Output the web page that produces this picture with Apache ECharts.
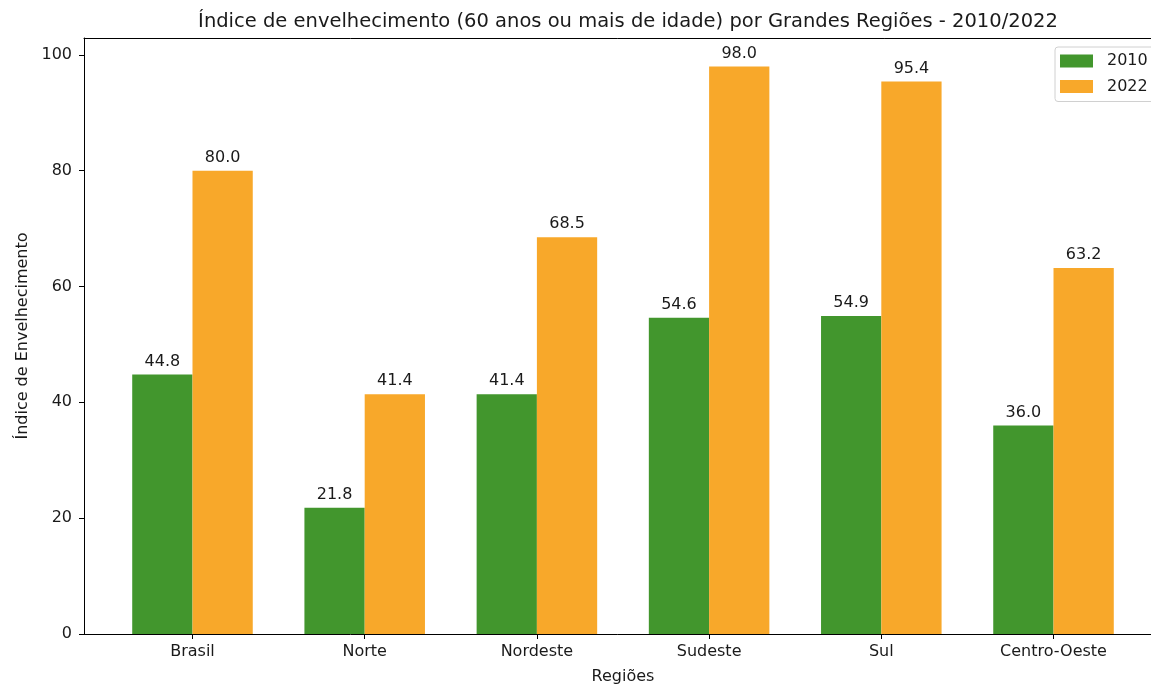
<!DOCTYPE html>
<html>
<head>
<meta charset="utf-8">
<script src="https://cdn.jsdelivr.net/npm/echarts@6/dist/echarts.min.js"></script>
<style>
  html, body { margin: 0; padding: 0; background: #fff; }
  #chart { width: 1151px; height: 684px; }
</style>
</head>
<body>
<div id="chart"></div>
<script>
// dados
var regioes = ['Brasil', 'Norte', 'Nordeste', 'Sudeste', 'Sul', 'Centro-Oeste'];
var valores2010 = [44.8, 21.8, 41.4, 54.6, 54.9, 36.0];
var valores2022 = [80.0, 41.4, 68.5, 98.0, 95.4, 63.2];
var yTicks = [0, 20, 40, 60, 80, 100];

var chart = echarts.init(document.getElementById('chart'));
var font = 'DejaVu Sans';
var corTexto = '#1a1a1a';
var posicoes = regioes.map(function (r, i) { return i; });

function pares(vals) {
  return vals.map(function (v, i) { return [i, v]; });
}

var rotulo = {
  show: true,
  position: 'top',
  distance: 5,
  color: corTexto,
  fontFamily: font,
  fontSize: 16,
  formatter: function (p) { return p.value[1].toFixed(1); }
};

var option = {
  animation: false,
  title: {
    text: 'Índice de envelhecimento (60 anos ou mais de idade) por Grandes Regiões - 2010/2022',
    left: 623,
    textAlign: 'center',
    top: 7,
    textStyle: { fontFamily: font, fontSize: 19.5, fontWeight: 'normal', color: corTexto }
  },
  legend: {
    orient: 'vertical',
    left: 1055,
    top: 47,
    icon: 'rect',
    itemWidth: 33,
    itemHeight: 13,
    itemGap: 9.5,
    padding: [6, 8, 7, 5],
    borderColor: '#d0d0d0',
    borderWidth: 1,
    borderRadius: 3,
    backgroundColor: '#fff',
    itemStyle: { borderWidth: 0 },
    textStyle: { fontFamily: font, fontSize: 16, color: corTexto, padding: [0, 0, 0, 9] },
    data: ['2010', '2022']
  },
  grid: { left: 84, top: 38, width: 1078, height: 596, outerBoundsMode: 'none' },
  xAxis: [{
    type: 'value',
    min: -0.63,
    max: 5.63,
    name: 'Regiões',
    nameLocation: 'middle',
    nameGap: 35,
    nameTextStyle: { fontFamily: font, fontSize: 16, color: corTexto },
    axisLine: { show: true, onZero: false, lineStyle: { color: '#000', width: 1 } },
    axisTick: { show: true, length: 5, customValues: posicoes, lineStyle: { color: '#000' } },
    axisLabel: {
      customValues: posicoes,
      margin: 10,
      fontFamily: font, fontSize: 16, color: corTexto,
      formatter: function (v) { return regioes[Math.round(v)]; }
    },
    splitLine: { show: false }
  }, {
    type: 'value',
    position: 'top',
    min: -0.63,
    max: 5.63,
    axisLine: { show: true, onZero: false, lineStyle: { color: '#000', width: 1 } },
    axisTick: { show: false },
    axisLabel: { show: false },
    splitLine: { show: false }
  }],
  yAxis: {
    type: 'value',
    min: 0,
    max: 102.9,
    interval: 20,
    name: 'Índice de Envelhecimento',
    nameLocation: 'middle',
    nameGap: 50,
    nameTextStyle: { fontFamily: font, fontSize: 16, color: corTexto },
    axisLine: { show: true, onZero: false, lineStyle: { color: '#000', width: 1 } },
    axisTick: { show: true, length: 5, customValues: yTicks, lineStyle: { color: '#000' } },
    axisLabel: { customValues: yTicks, margin: 12, fontFamily: font, fontSize: 16, color: corTexto },
    splitLine: { show: false }
  },
  series: [{
    name: '2010',
    type: 'bar',
    barWidth: '35%',
    barGap: '0%',
    itemStyle: { color: '#42962d' },
    label: rotulo,
    data: pares(valores2010)
  }, {
    name: '2022',
    type: 'bar',
    barWidth: '35%',
    barGap: '0%',
    itemStyle: { color: '#f8a82a' },
    label: rotulo,
    data: pares(valores2022)
  }]
};

chart.setOption(option);
</script>
</body>
</html>
